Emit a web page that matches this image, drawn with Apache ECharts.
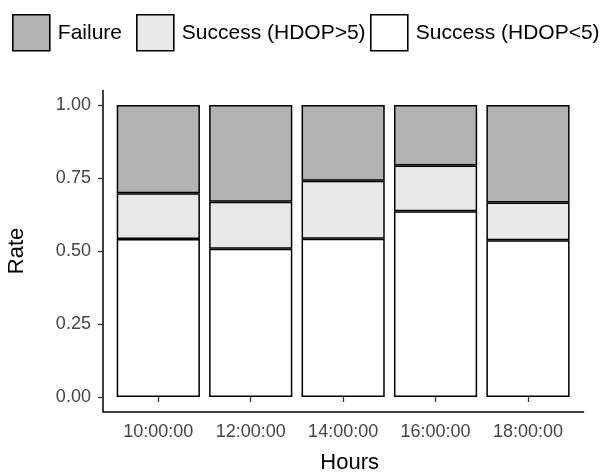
<!DOCTYPE html>
<html>
<head>
<meta charset="utf-8">
<script src="https://cdn.jsdelivr.net/npm/echarts@6/dist/echarts.min.js"></script>
<style>
html,body{margin:0;padding:0;background:#fff;}
#main{width:603px;height:472px;}
</style>
</head>
<body>
<div id="main"></div>
<script>
var categories = ['10:00:00', '12:00:00', '14:00:00', '16:00:00', '18:00:00'];
var successLow = [0.541, 0.508, 0.542, 0.636, 0.537];   // Success (HDOP<5)
var successHigh = [0.157, 0.161, 0.199, 0.157, 0.129];  // Success (HDOP>5)
var failure = [0.302, 0.331, 0.259, 0.207, 0.334];      // Failure
var yTicks = [0, 0.25, 0.5, 0.75, 1];

var FONT = "'Liberation Sans', Arial, Helvetica, sans-serif";
var chart = echarts.init(document.getElementById('main'), null, {renderer: 'canvas'});

function legendFor(name, left) {
  return {
    data: [name], left: left, top: 14, orient: 'horizontal',
    itemWidth: 37, itemHeight: 36, itemGap: 0, icon: 'rect',
    selectedMode: false, padding: 0,
    itemStyle: {borderColor: '#000', borderWidth: 1.6},
    textStyle: {fontFamily: FONT, fontSize: 21, color: '#000', padding: [0, 0, 0, 3]}
  };
}

var option = {
  animation: false,
  backgroundColor: '#fff',
  legend: [
    legendFor('Failure', 12),
    legendFor('Success (HDOP>5)', 136),
    legendFor('Success (HDOP<5)', 370)
  ],
  grid: [
    {left: 112.1, width: 462.1, top: 105, height: 292, containLabel: false, outerBoundsMode: 'none'},
    {left: 102.9, right: 19.5, top: 90.4, bottom: 60.4, containLabel: false, outerBoundsMode: 'none'}
  ],
  xAxis: [
    {
      type: 'category', gridIndex: 0, data: categories, offset: 14.6,
      axisLine: {show: false},
      axisTick: {show: true, alignWithLabel: true, length: 5, lineStyle: {color: '#333', width: 1.3}},
      axisLabel: {fontFamily: FONT, fontSize: 18, color: '#444', margin: 11},
      splitLine: {show: false}
    },
    {
      type: 'value', gridIndex: 1, min: 0, max: 1,
      axisLine: {show: true, lineStyle: {color: '#000', width: 1.5}},
      axisTick: {show: false}, axisLabel: {show: false}, splitLine: {show: false},
      name: 'Hours', nameLocation: 'middle', nameGap: 40,
      nameTextStyle: {fontFamily: FONT, fontSize: 22, color: '#000', padding: [0, 0, 0, 13]}
    }
  ],
  yAxis: [
    {
      type: 'value', gridIndex: 0, min: 0, max: 1, interval: 0.25, offset: 9.2,
      axisLine: {show: false},
      axisTick: {show: true, length: 5, lineStyle: {color: '#333', width: 1.3}},
      axisLabel: {fontFamily: FONT, fontSize: 18, color: '#444', margin: 12,
        formatter: function (v) { return v.toFixed(2); }},
      splitLine: {show: false}
    },
    {
      type: 'value', gridIndex: 1, min: 0, max: 1,
      axisLine: {show: true, lineStyle: {color: '#000', width: 1.5}},
      axisTick: {show: false}, axisLabel: {show: false}, splitLine: {show: false},
      name: 'Rate', nameLocation: 'middle', nameGap: 75,
      nameTextStyle: {fontFamily: FONT, fontSize: 22, color: '#000'}
    }
  ],
  series: [
    {
      name: 'Success (HDOP<5)', type: 'bar', stack: 'rate', barWidth: '90%',
      xAxisIndex: 0, yAxisIndex: 0, data: successLow,
      itemStyle: {color: '#ffffff', borderColor: '#000', borderWidth: 1.5}
    },
    {
      name: 'Success (HDOP>5)', type: 'bar', stack: 'rate', barWidth: '90%',
      xAxisIndex: 0, yAxisIndex: 0, data: successHigh,
      itemStyle: {color: '#e8e8e8', borderColor: '#000', borderWidth: 1.5}
    },
    {
      name: 'Failure', type: 'bar', stack: 'rate', barWidth: '90%',
      xAxisIndex: 0, yAxisIndex: 0, data: failure,
      itemStyle: {color: '#b3b3b3', borderColor: '#000', borderWidth: 1.5}
    }
  ]
};
chart.setOption(option);
</script>
</body>
</html>
